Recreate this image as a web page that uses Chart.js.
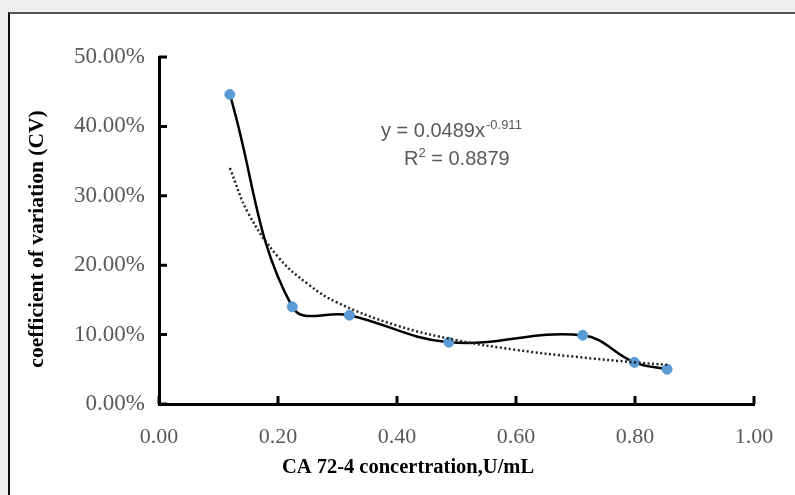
<!DOCTYPE html>
<html lang="en">
<head>
    <meta charset="UTF-8">
    <title>CV vs CA 72-4</title>
    <script src="https://cdn.jsdelivr.net/npm/chart.js"></script>
    <style>
        body { margin: 0; background: #f0f0f0; overflow: hidden; }
        .frame {
            position: absolute; left: 8px; top: 12px;
            width: 800px; height: 500px;
            background: #fff;
            border-top: 2px solid #555;
            border-left: 2px solid #111;
        }
        #cvChart { position: absolute; left: 0; top: 0; }
    </style>
</head>
<body>
<div class="frame"></div>
<canvas id="cvChart" width="795" height="495"></canvas>

<script>
    // measured points (CA 72-4 U/mL, CV %)
    const concX = [0.119, 0.224, 0.320, 0.487, 0.712, 0.799, 0.854];
    const cvY = [44.6, 14.0, 12.8, 8.9, 9.9, 6.0, 5.0];

    // power trendline
    const trendX = [0.119, 0.15, 0.2, 0.25, 0.3, 0.4, 0.5, 0.6, 0.7, 0.8, 0.854];
    const trendY = [34.0, 27.5, 21.2, 17.3, 14.6, 11.3, 9.2, 7.8, 6.8, 6.0, 5.65];

    const xTicks = [0, 0.2, 0.4, 0.6, 0.8, 1.0];
    const yTicks = [0, 10, 20, 30, 40, 50];

    const labelColor = '#595959';
    const serif = "'Liberation Serif', 'Times New Roman', serif";
    const sans = "'Liberation Sans', Arial, sans-serif";

    // inward tick marks + titles + equation
    const extras = {
        id: 'extras',
        afterDraw(chart) {
            const { ctx, chartArea, scales: { x, y } } = chart;
            ctx.save();
            ctx.strokeStyle = '#000';
            ctx.lineWidth = 3;
            ctx.beginPath();
            yTicks.forEach(v => {
                const py = y.getPixelForValue(v);
                ctx.moveTo(chartArea.left, py);
                ctx.lineTo(chartArea.left + 8, py);
            });
            xTicks.forEach(v => {
                const px = x.getPixelForValue(v);
                ctx.moveTo(px, chartArea.bottom);
                ctx.lineTo(px, chartArea.bottom - 8);
            });
            ctx.stroke();

            // axis titles
            ctx.fillStyle = '#000';
            ctx.textAlign = 'center';
            ctx.textBaseline = 'middle';
            ctx.font = "bold 20.5px " + serif;
            ctx.fillText('CA 72-4 concertration,U/mL', 408, 468);
            ctx.translate(37, 239);
            ctx.rotate(-Math.PI / 2);
            ctx.font = "bold 21.5px " + serif;
            ctx.fillText('coefficient of variation (CV)', 0, 0);
            ctx.restore();

            // trendline equation
            ctx.save();
            ctx.fillStyle = labelColor;
            ctx.textBaseline = 'alphabetic';
            ctx.textAlign = 'left';
            ctx.font = "20px " + sans;
            const main = 'y = 0.0489x';
            ctx.fillText(main, 381, 137);
            const w = ctx.measureText(main).width;
            ctx.font = "13px " + sans;
            ctx.fillText('-0.911', 381 + w + 1, 129);
            ctx.font = "20px " + sans;
            ctx.fillText('R', 404, 165);
            const rw = ctx.measureText('R').width;
            ctx.font = "13px " + sans;
            ctx.fillText('2', 404 + rw, 157);
            const sw = ctx.measureText('2').width;
            ctx.font = "20px " + sans;
            ctx.fillText(' = 0.8879', 404 + rw + sw, 165);
            ctx.restore();
        }
    };

    new Chart(document.getElementById('cvChart'), {
        type: 'scatter',
        data: {
            datasets: [
                {
                    label: 'CV',
                    data: concX.map((v, i) => ({ x: v, y: cvY[i] })),
                    showLine: true,
                    borderColor: '#000',
                    borderWidth: 2.5,
                    tension: 0.4,
                    pointRadius: 5,
                    pointHoverRadius: 5,
                    pointBackgroundColor: '#5b9bd5',
                    pointBorderColor: '#5b9bd5',
                    pointBorderWidth: 1,
                    order: 1
                },
                {
                    label: 'Power trend',
                    data: trendX.map((v, i) => ({ x: v, y: trendY[i] })),
                    showLine: true,
                    borderColor: '#222',
                    borderWidth: 2.5,
                    borderDash: [2, 2.5],
                    tension: 0.4,
                    pointRadius: 0,
                    order: 0
                }
            ]
        },
        options: {
            responsive: false,
            animation: false,
            events: [],
            layout: { padding: { top: 57, right: 41, left: 0, bottom: 0 } },
            plugins: { legend: { display: false }, tooltip: { enabled: false } },
            scales: {
                x: {
                    type: 'linear',
                    min: 0, max: 1,
                    afterFit: s => { s.height = 91; },
                    afterBuildTicks: s => { s.ticks = xTicks.map(v => ({ value: v })); },
                    grid: { drawOnChartArea: false, drawTicks: false },
                    border: { color: '#000', width: 3 },
                    ticks: {
                        padding: 20,
                        color: labelColor,
                        font: { family: serif, size: 22 },
                        callback: v => v.toFixed(2)
                    }
                },
                y: {
                    type: 'linear',
                    min: 0, max: 50,
                    afterFit: s => { s.width = 159; },
                    afterBuildTicks: s => { s.ticks = yTicks.map(v => ({ value: v })); },
                    grid: { drawOnChartArea: false, drawTicks: false },
                    border: { color: '#000', width: 3 },
                    ticks: {
                        padding: 14,
                        color: labelColor,
                        font: { family: serif, size: 23 },
                        callback: v => v.toFixed(2) + '%'
                    }
                }
            }
        },
        plugins: [extras]
    });
</script>
</body>
</html>
